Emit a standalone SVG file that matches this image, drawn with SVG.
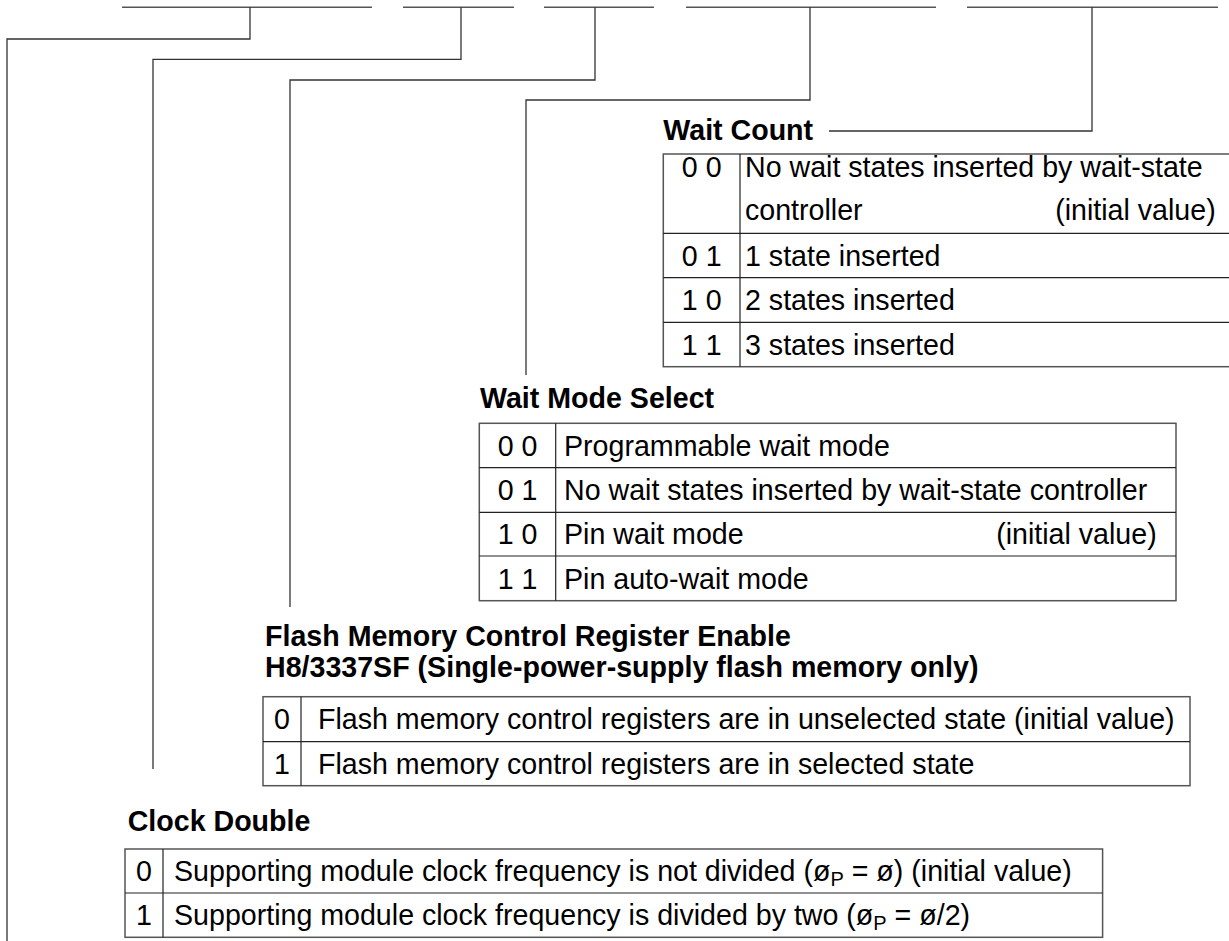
<svg xmlns="http://www.w3.org/2000/svg" width="1229" height="941" viewBox="0 0 1229 941">
<style>
.t{font-family:"Liberation Sans",Arial,Helvetica,sans-serif;font-size:28.6px;fill:#000}
.b{font-weight:bold}
.m{text-anchor:middle}
.e{text-anchor:end}
.outer{fill:none;stroke:#555;stroke-width:1.5}
.inner{fill:none;stroke:#222;stroke-width:1.2}
.conn{fill:none;stroke:#333;stroke-width:1.3}
.bar{fill:none;stroke:#555;stroke-width:1.6}
</style>
<rect width="1229" height="941" fill="#fff"/>
<g id="register-fields">
<line class="bar" x1="122" y1="7.3" x2="372" y2="7.3"/>
<line class="bar" x1="403" y1="7.3" x2="514" y2="7.3"/>
<line class="bar" x1="544" y1="7.3" x2="654" y2="7.3"/>
<line class="bar" x1="686" y1="7.3" x2="936" y2="7.3"/>
<line class="bar" x1="967" y1="7.3" x2="1218" y2="7.3"/>
</g>
<g id="connectors">
<polyline class="conn" points="250,7.3 250,39 7,39 7,941"/>
<polyline class="conn" points="461,7.3 461,59.3 153,59.3 153,769"/>
<polyline class="conn" points="595,7.3 595,80 290,80 290,607"/>
<polyline class="conn" points="810,7.3 810,100 526,100 526,375"/>
<polyline class="conn" points="1092,7.3 1092,131 829,131"/>
</g>
<g id="wait-count">
<text class="t b" x="663.3" y="140">Wait Count</text>
<rect class="outer" x="663.3" y="154" width="570" height="212.7"/>
<line class="inner" x1="740" y1="154" x2="740" y2="366.7"/>
<line class="inner" x1="663.3" y1="233.3" x2="1229" y2="233.3"/>
<line class="inner" x1="663.3" y1="277.7" x2="1229" y2="277.7"/>
<line class="inner" x1="663.3" y1="322.3" x2="1229" y2="322.3"/>
<text class="t m" x="701.7" y="176.7">0 0</text>
<text class="t" x="745" y="176.7">No wait states inserted by wait-state</text>
<text class="t" x="745" y="220">controller</text>
<text class="t e" x="1215.7" y="220">(initial value)</text>
<text class="t m" x="701.7" y="265.5">0 1</text>
<text class="t" x="745" y="265.5">1 state inserted</text>
<text class="t m" x="701.7" y="310">1 0</text>
<text class="t" x="745" y="310">2 states inserted</text>
<text class="t m" x="701.7" y="354.5">1 1</text>
<text class="t" x="745" y="354.5">3 states inserted</text>
</g>
<g id="wait-mode-select">
<text class="t b" x="480" y="408.3">Wait Mode Select</text>
<rect class="outer" x="479.3" y="423.3" width="696.7" height="177.4"/>
<line class="inner" x1="555.7" y1="423.3" x2="555.7" y2="600.7"/>
<line class="inner" x1="479.3" y1="467.7" x2="1176" y2="467.7"/>
<line class="inner" x1="479.3" y1="512.3" x2="1176" y2="512.3"/>
<line class="inner" x1="479.3" y1="556" x2="1176" y2="556"/>
<text class="t m" x="517.5" y="455.5">0 0</text>
<text class="t" x="564" y="455.5">Programmable wait mode</text>
<text class="t m" x="517.5" y="500">0 1</text>
<text class="t" x="564" y="500">No wait states inserted by wait-state controller</text>
<text class="t m" x="517.5" y="544">1 0</text>
<text class="t" x="564" y="544">Pin wait mode</text>
<text class="t e" x="1156.7" y="544">(initial value)</text>
<text class="t m" x="517.5" y="588.5">1 1</text>
<text class="t" x="564" y="588.5">Pin auto-wait mode</text>
</g>
<g id="flash-memory-control-register-enable">
<text class="t b" x="265" y="645.5">Flash Memory Control Register Enable</text>
<text class="t b" x="265" y="676.5">H8/3337SF (Single-power-supply flash memory only)</text>
<rect class="outer" x="263" y="696.7" width="927" height="89"/>
<line class="inner" x1="301" y1="696.7" x2="301" y2="785.7"/>
<line class="inner" x1="263" y1="741.7" x2="1190" y2="741.7"/>
<text class="t m" x="282" y="729">0</text>
<text class="t" x="318" y="729">Flash memory control registers are in unselected state (initial value)</text>
<text class="t m" x="282" y="773.5">1</text>
<text class="t" x="318" y="773.5">Flash memory control registers are in selected state</text>
</g>
<g id="clock-double">
<text class="t b" x="127.7" y="830.7">Clock Double</text>
<rect class="outer" x="125" y="849" width="977.6" height="88.3"/>
<line class="inner" x1="163" y1="849" x2="163" y2="937.3"/>
<line class="inner" x1="125" y1="893" x2="1102.6" y2="893"/>
<text class="t m" x="144" y="881">0</text>
<text class="t" x="174" y="881">Supporting module clock frequency is not divided (ø<tspan font-size="20" dy="5">P</tspan><tspan dy="-5"> = ø) (initial value)</tspan></text>
<text class="t m" x="144" y="925">1</text>
<text class="t" x="174" y="925">Supporting module clock frequency is divided by two (ø<tspan font-size="20" dy="5">P</tspan><tspan dy="-5"> = ø/2)</tspan></text>
</g>
</svg>
